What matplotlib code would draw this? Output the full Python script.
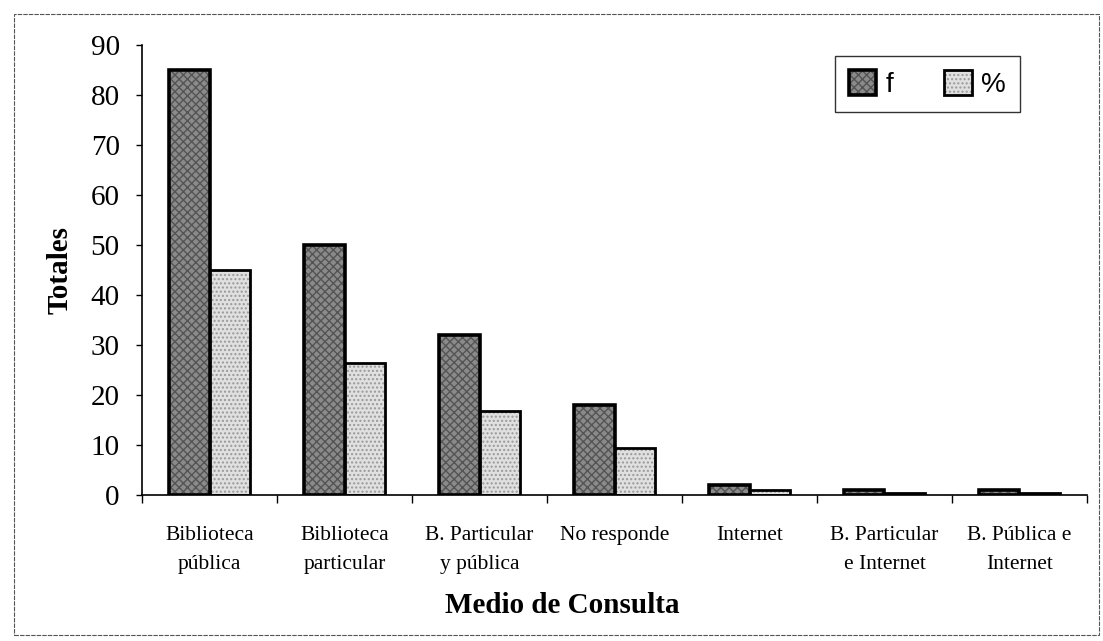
import matplotlib
matplotlib.use("Agg")
import matplotlib.pyplot as plt
import numpy as np
from matplotlib.patches import Rectangle

categories = ["Biblioteca\npública", "Biblioteca\nparticular", "B. Particular\ny pública",
              "No responde", "Internet", "B. Particular\ne Internet", "B. Pública e\nInternet"]
f_values = [85, 50, 32, 18, 2, 1, 1]
pct_values = [45.0, 26.5, 16.9, 9.5, 1.1, 0.5, 0.5]
yticks = [0, 10, 20, 30, 40, 50, 60, 70, 80, 90]

serif = ["Liberation Serif", "DejaVu Serif"]
sans = ["Liberation Sans", "DejaVu Sans"]

W, H = 1103, 641
fig = plt.figure(figsize=(W/100, H/100), dpi=100)
ax_l, ax_r, ax_t, ax_b = 142, 1087, 45, 495
ax = fig.add_axes([ax_l/W, 1-ax_b/H, (ax_r-ax_l)/W, (ax_b-ax_t)/H])

x = np.arange(len(categories))
w = 0.3
bf = ax.bar(x - w/2, f_values, w, color="#8a8a8a", edgecolor="black", linewidth=2.6,
            hatch="xxxx", label="f")
bp = ax.bar(x + w/2, pct_values, w, color="#e0e0e0", edgecolor="black", linewidth=2.0,
            hatch="....", label="%")
for b in bf:
    b._hatch_color = (0.33, 0.33, 0.33, 1)
for b in bp:
    b._hatch_color = (0.6, 0.6, 0.6, 1)

ax.set_xlim(-0.5, len(categories) - 0.5)
ax.set_ylim(0, 90)
ax.set_yticks(yticks)
ax.set_yticklabels([str(v) for v in yticks], fontfamily=serif, fontsize=21)
ax.set_xticks(x)
ax.set_xticklabels(categories, fontfamily=serif, fontsize=15.5, linespacing=1.75)
ax.tick_params(axis="x", length=0, pad=22)
ax.set_xticks(np.arange(len(categories) + 1) - 0.5, minor=True)
ax.tick_params(axis="x", which="minor", length=6, direction="out", width=1)
ax.tick_params(axis="y", length=4, direction="out", width=1, pad=12)
for s in ["top", "right"]:
    ax.spines[s].set_visible(False)
ax.spines["left"].set_linewidth(1.2)
ax.spines["bottom"].set_linewidth(1.2)

ax.set_ylabel("Totales", fontfamily=serif, fontsize=21, fontweight="bold", labelpad=12)
ax.set_xlabel("Medio de Consulta", fontfamily=serif, fontsize=21, fontweight="bold", labelpad=13)
ax.xaxis.label.set_x((562 - ax_l) / (ax_r - ax_l))

leg = ax.legend(loc="upper right",
                bbox_to_anchor=((1020 - ax_l) / (ax_r - ax_l), (ax_b - 56) / (ax_b - ax_t)),
                borderaxespad=0, ncol=2, frameon=True,
                fancybox=False, edgecolor="black", prop={"family": sans, "size": 20},
                handlelength=1.0, handleheight=1.0, columnspacing=1.8, borderpad=0.5,
                handletextpad=0.35)
leg.get_frame().set_linewidth(1.0)

fig.patches.append(Rectangle((14/W, 1-635/H), (1099-14)/W, (635-14)/H,
                             transform=fig.transFigure, fill=False, edgecolor="#555555",
                             linewidth=0.8, linestyle=(0, (4, 1))))

fig.savefig("out.png", dpi=100)
